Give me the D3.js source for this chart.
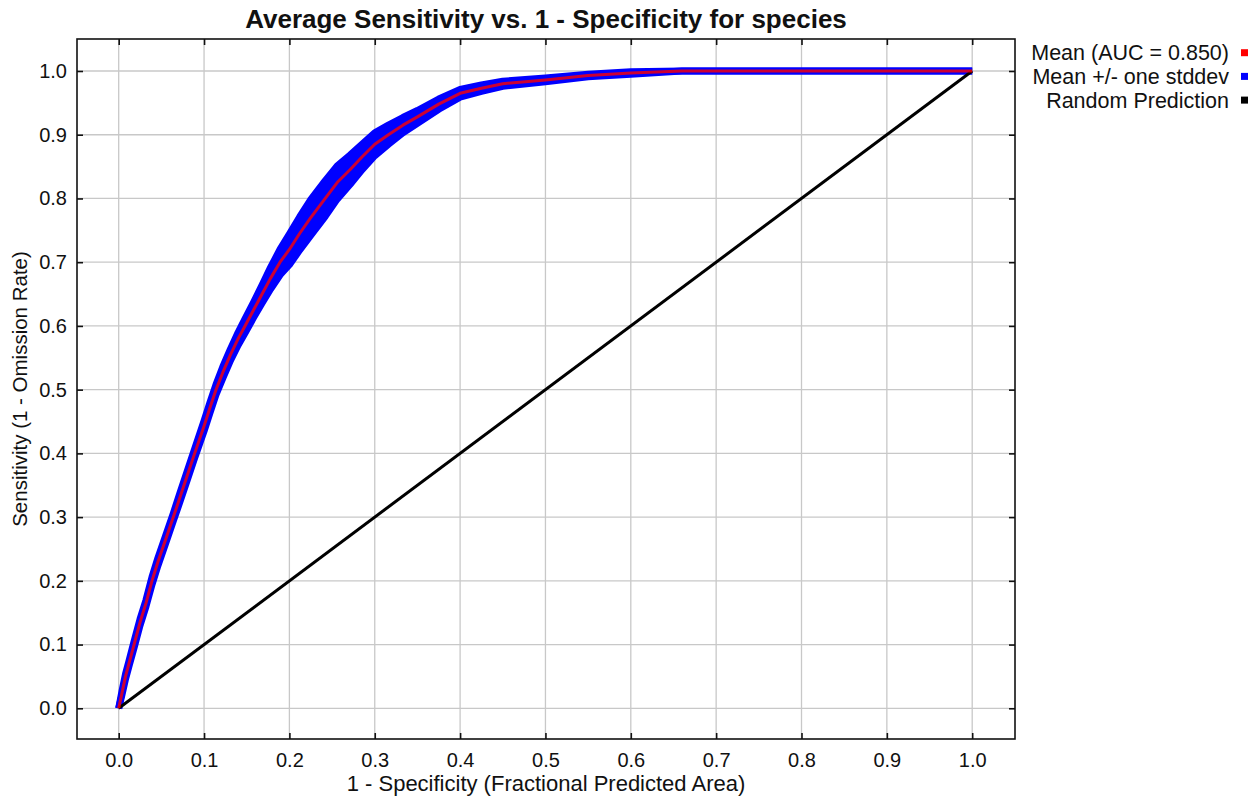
<!DOCTYPE html>
<html>
<head>
<meta charset="utf-8">
<script src="https://cdn.jsdelivr.net/npm/d3@7"></script>
<style>
  body { margin: 0; background: #fff; }
  text { font-family: "Liberation Sans", Arial, Helvetica, sans-serif; fill: #111; }
</style>
</head>
<body>
<svg id="chart" width="1256" height="798"></svg>
<script>
// mean ROC curve
var fpr = [0, 0.004, 0.008, 0.012, 0.018, 0.025, 0.032, 0.039, 0.046, 0.055, 0.064, 0.072, 0.08, 0.089, 0.1, 0.107, 0.114, 0.122, 0.131, 0.14, 0.148, 0.158, 0.168, 0.178, 0.189, 0.2, 0.212, 0.225, 0.242, 0.256, 0.271, 0.285, 0.3, 0.316, 0.333, 0.35, 0.375, 0.4, 0.425, 0.45, 0.5, 0.55, 0.6, 0.66, 0.8, 1.0];
var meanTpr = [0, 0.025, 0.05, 0.07, 0.1, 0.135, 0.165, 0.2, 0.23, 0.265, 0.3, 0.332, 0.364, 0.4, 0.443, 0.472, 0.5, 0.527, 0.555, 0.58, 0.6, 0.625, 0.65, 0.675, 0.7, 0.72, 0.745, 0.77, 0.8, 0.825, 0.845, 0.865, 0.885, 0.9, 0.915, 0.928, 0.948, 0.965, 0.973, 0.98, 0.986, 0.993, 0.997, 1.0, 1.0, 1.0];
var stdTpr = [0, 0.003, 0.004, 0.004, 0.005, 0.005, 0.005, 0.006, 0.006, 0.006, 0.006, 0.007, 0.007, 0.007, 0.008, 0.008, 0.008, 0.009, 0.009, 0.01, 0.011, 0.012, 0.014, 0.017, 0.02, 0.024, 0.026, 0.028, 0.028, 0.026, 0.023, 0.02, 0.018, 0.015, 0.012, 0.01, 0.008, 0.006, 0.005, 0.004, 0.003, 0.002, 0.002, 0, 0, 0];
var randomLine = [[0, 0], [1, 1]];
var ticks = [0, 0.1, 0.2, 0.3, 0.4, 0.5, 0.6, 0.7, 0.8, 0.9, 1.0];
var legendItems = [
  {label: "Mean (AUC = 0.850)", color: "#ff0000"},
  {label: "Mean +/- one stddev", color: "#0000ff"},
  {label: "Random Prediction", color: "#000000"}
];

var svg = d3.select("#chart");
var frame = {left: 77, top: 39, right: 1015, bottom: 739};

var x = d3.scaleLinear().domain([0, 1]).range([118.7, 972.2]);
var y = d3.scaleLinear().domain([0, 1]).range([708.3, 71]);

var mean = fpr.map(function(d, i) { return {x: d, y: meanTpr[i], sd: stdTpr[i]}; });

// grid
var grid = svg.append("g");
grid.selectAll(".gx").data(ticks).join("line")
  .attr("x1", d => x(d)).attr("x2", d => x(d))
  .attr("y1", frame.top).attr("y2", frame.bottom)
  .attr("stroke", "#c8c8c8").attr("stroke-width", 1.3);
grid.selectAll(".gy").data(ticks).join("line")
  .attr("y1", d => y(d)).attr("y2", d => y(d))
  .attr("x1", frame.left).attr("x2", frame.right)
  .attr("stroke", "#c8c8c8").attr("stroke-width", 1.3);

// axes, ticks inside on all four sides
var tl = 6;
svg.append("g").attr("transform", "translate(0," + frame.bottom + ")")
  .call(d3.axisBottom(x).tickValues(ticks).tickFormat(d3.format(".1f")).tickSizeInner(-tl).tickSizeOuter(0).tickPadding(14))
  .call(g => g.select(".domain").remove());
svg.append("g").attr("transform", "translate(0," + frame.top + ")")
  .call(d3.axisTop(x).tickValues(ticks).tickFormat("").tickSizeInner(-tl).tickSizeOuter(0))
  .call(g => g.select(".domain").remove());
svg.append("g").attr("transform", "translate(" + frame.left + ",0)")
  .call(d3.axisLeft(y).tickValues(ticks).tickFormat(d3.format(".1f")).tickSizeInner(-tl).tickSizeOuter(0).tickPadding(10))
  .call(g => g.select(".domain").remove());
svg.append("g").attr("transform", "translate(" + frame.right + ",0)")
  .call(d3.axisRight(y).tickValues(ticks).tickFormat("").tickSizeInner(-tl).tickSizeOuter(0))
  .call(g => g.select(".domain").remove());
svg.selectAll(".tick line").attr("stroke", "#111").attr("stroke-width", 1.6);
svg.selectAll(".tick text").attr("font-size", 20).attr("fill", "#111")
  .style("font-family", '"Liberation Sans", Arial, sans-serif');

// std band
var band = d3.area().x(d => x(d.x)).y0(d => y(d.y - d.sd)).y1(d => y(Math.min(1, d.y + d.sd)));
svg.append("path").datum(mean).attr("d", band).attr("fill", "#0000ff");
var upper = d3.line().x(d => x(d.x)).y(d => y(Math.min(1, d.y + d.sd)));
var lower = d3.line().x(d => x(d.x)).y(d => y(d.y - d.sd));
svg.append("path").datum(mean).attr("d", upper).attr("fill", "none").attr("stroke", "#0000ff").attr("stroke-width", 7).attr("stroke-linejoin", "round");
svg.append("path").datum(mean).attr("d", lower).attr("fill", "none").attr("stroke", "#0000ff").attr("stroke-width", 7).attr("stroke-linejoin", "round");

// random prediction
svg.append("path").datum(randomLine)
  .attr("d", d3.line().x(d => x(d[0])).y(d => y(d[1])))
  .attr("stroke", "#000").attr("stroke-width", 3).attr("fill", "none");

// mean curve
svg.append("path").datum(mean)
  .attr("d", d3.line().x(d => x(d.x)).y(d => y(d.y)))
  .attr("fill", "none").attr("stroke", "#ff0000").attr("stroke-opacity", 0.8)
  .attr("stroke-width", 3).attr("stroke-linejoin", "round");

// frame
svg.append("rect").attr("x", frame.left).attr("y", frame.top)
  .attr("width", frame.right - frame.left).attr("height", frame.bottom - frame.top)
  .attr("fill", "none").attr("stroke", "#111").attr("stroke-width", 1.6);

// titles
svg.append("text").attr("x", 546).attr("y", 28).attr("text-anchor", "middle")
  .attr("font-size", 26).attr("font-weight", "bold")
  .text("Average Sensitivity vs. 1 - Specificity for species");
svg.append("text").attr("x", 546).attr("y", 791).attr("text-anchor", "middle")
  .attr("font-size", 22).text("1 - Specificity (Fractional Predicted Area)");
svg.append("text").attr("transform", "translate(27,389) rotate(-90)").attr("text-anchor", "middle")
  .attr("font-size", 20.5).text("Sensitivity (1 - Omission Rate)");

// legend
var leg = svg.append("g").selectAll("g").data(legendItems).join("g")
  .attr("transform", (d, i) => "translate(0," + (52.7 + i * 23.7) + ")");
leg.append("text").attr("x", 1229).attr("y", 7.5).attr("text-anchor", "end")
  .attr("font-size", 21.5).text(d => d.label);
leg.append("rect").attr("x", 1241).attr("y", -3.5).attr("width", 7).attr("height", 7)
  .attr("fill", d => d.color);
</script>
</body>
</html>
